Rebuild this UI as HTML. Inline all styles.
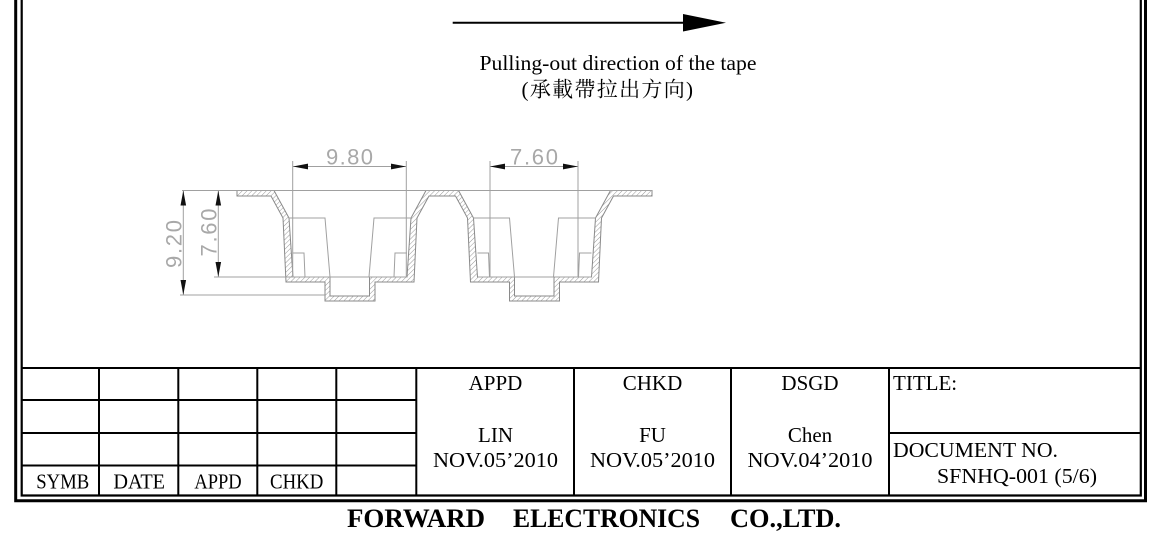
<!DOCTYPE html>
<html>
<head>
<meta charset="utf-8">
<style>
html,body{margin:0;padding:0;background:#fff;}
body{width:1150px;height:541px;overflow:hidden;}
svg{display:block;}
</style>
</head>
<body>
<svg width="1150" height="541" viewBox="0 0 1150 541" xmlns="http://www.w3.org/2000/svg">
<defs>
<pattern id="hatch" patternUnits="userSpaceOnUse" width="3.4" height="3.4" patternTransform="rotate(45)">
<line x1="0" y1="0" x2="0" y2="3.4" stroke="#8f8f8f" stroke-width="0.9"/>
</pattern>
</defs>
<rect x="0" y="0" width="1150" height="541" fill="#fff"/>

<!-- Frame -->
<g fill="none" stroke="#000">
<path d="M15.7 0V500.8H1145.5V0" stroke-width="3"/>
<path d="M21.7 0V495.5H1140.8V0" stroke-width="2.2"/>
</g>

<!-- Table grid -->
<g stroke="#000" stroke-width="2" fill="none">
<path d="M21.7 368H1140.8"/>
<path d="M21.7 400H416.3M21.7 433H416.3M21.7 465.5H416.3"/>
<path d="M889 433H1140.8"/>
<path d="M99 368V495.5M178.3 368V495.5M257.3 368V495.5M336.3 368V495.5M416.3 368V495.5M574 368V495.5M731 368V495.5M889 368V495.5"/>
</g>

<!-- Top arrow -->
<path d="M452.7 22.7H690" stroke="#000" stroke-width="2"/>
<polygon points="683,14 726,22.7 683,31.5" fill="#000"/>

<text x="479.5" y="70" font-family="'Liberation Serif', serif" font-size="21.5" textLength="277" lengthAdjust="spacingAndGlyphs" fill="#000">Pulling-out direction of the tape</text>
<text x="521.5" y="96.5" font-family="'Liberation Serif', 'Noto Serif CJK SC', serif" font-size="21" textLength="171.5" lengthAdjust="spacing" fill="#000">(承載帶拉出方向)</text>

<!-- Drawing: hatched band -->
<path d="M237 190.5H274L289 218L293 277H330V296H369.5V277H407L411 218L426 190.5H458.5L473.5 218L477.5 277H514.5V296H554V277H591.5L595.5 218L610.5 190.5H652V196H613.5L601.5 218L598.5 282H559.5V301H509.5V282H470.5L467.5 218L455.5 196H429L417 218L414 282H375V301H325V282H286L283 218L271 196H237Z" fill="url(#hatch)" stroke="#8a8a8a" stroke-width="1"/>

<!-- thin inner lines -->
<g stroke="#a0a0a0" stroke-width="1" fill="none">
<path d="M182 190.5H652"/>
<path d="M289 218H325L330 277M411 218H374L369 277M293 277H407M293 253H304L305 277M407 253H395L394 277"/>
<path d="M473.5 218H509.5L514.5 277M595.5 218H558.5L553.5 277M477.5 277H591.5M477.5 253H488.5L489.5 277M591.5 253H579.5L578.5 277"/>
<!-- extension lines -->
<path d="M292.7 161V277M406.3 161V277M490 161V277M578 161V277"/>
<path d="M214 277H293M180 295H325"/>
<!-- dimension lines -->
<path d="M292.7 166.5H406.3M490 166.5H578"/>
<path d="M183.3 190.5V295M218.3 190.5V277"/>
</g>

<!-- arrowheads -->
<g fill="#111">
<polygon points="293,166.5 308,163.6 308,169.4"/>
<polygon points="406,166.5 391,163.6 391,169.4"/>
<polygon points="490,166.5 505,163.6 505,169.4"/>
<polygon points="578,166.5 563,163.6 563,169.4"/>
<polygon points="183.3,190.5 180.5,205.5 186.1,205.5"/>
<polygon points="183.3,295 180.5,280 186.1,280"/>
<polygon points="218.3,190.5 215.5,205.5 221.1,205.5"/>
<polygon points="218.3,277 215.5,262 221.1,262"/>
</g>

<!-- dimension labels -->
<g font-family="'Liberation Sans', sans-serif" font-size="22" fill="#a8a8a8">
<text x="349.5" y="164.5" text-anchor="middle" textLength="47" lengthAdjust="spacing">9.80</text>
<text x="534" y="164.5" text-anchor="middle" textLength="48" lengthAdjust="spacing">7.60</text>
<text transform="translate(181.5,244) rotate(-90)" x="0" y="0" text-anchor="middle" textLength="48" lengthAdjust="spacing">9.20</text>
<text transform="translate(216.5,232.5) rotate(-90)" x="0" y="0" text-anchor="middle" textLength="48" lengthAdjust="spacing">7.60</text>
</g>

<!-- Table text -->
<g font-family="'Liberation Serif', serif" font-size="21" fill="#000">
<text x="62.7" y="488.3" text-anchor="middle" textLength="53" lengthAdjust="spacingAndGlyphs">SYMB</text>
<text x="139.2" y="488.3" text-anchor="middle" textLength="51.7" lengthAdjust="spacingAndGlyphs">DATE</text>
<text x="218" y="488.3" text-anchor="middle" textLength="47.3" lengthAdjust="spacingAndGlyphs">APPD</text>
<text x="296.7" y="488.3" text-anchor="middle" textLength="53.3" lengthAdjust="spacingAndGlyphs">CHKD</text>

<text x="495.5" y="390" text-anchor="middle">APPD</text>
<text x="652.5" y="390" text-anchor="middle">CHKD</text>
<text x="810" y="390" text-anchor="middle">DSGD</text>

<text x="495.5" y="442" text-anchor="middle">LIN</text>
<text x="652.5" y="442" text-anchor="middle">FU</text>
<text x="810" y="442" text-anchor="middle">Chen</text>

<text x="495.5" y="467" text-anchor="middle" textLength="125" lengthAdjust="spacingAndGlyphs">NOV.05’2010</text>
<text x="652.5" y="467" text-anchor="middle" textLength="125" lengthAdjust="spacingAndGlyphs">NOV.05’2010</text>
<text x="810" y="467" text-anchor="middle" textLength="125" lengthAdjust="spacingAndGlyphs">NOV.04’2010</text>

<text x="893" y="390">TITLE:</text>
<text x="893" y="457" textLength="165" lengthAdjust="spacingAndGlyphs">DOCUMENT NO.</text>
<text x="937" y="483" textLength="160" lengthAdjust="spacingAndGlyphs">SFNHQ-001 (5/6)</text>
</g>

<!-- Company name -->
<g font-family="'Liberation Serif', serif" font-size="26" font-weight="bold" fill="#000">
<text x="347" y="527" textLength="138" lengthAdjust="spacingAndGlyphs">FORWARD</text>
<text x="513" y="527" textLength="187" lengthAdjust="spacingAndGlyphs">ELECTRONICS</text>
<text x="730" y="527" textLength="111" lengthAdjust="spacingAndGlyphs">CO.,LTD.</text>
</g>
</svg>
</body>
</html>
